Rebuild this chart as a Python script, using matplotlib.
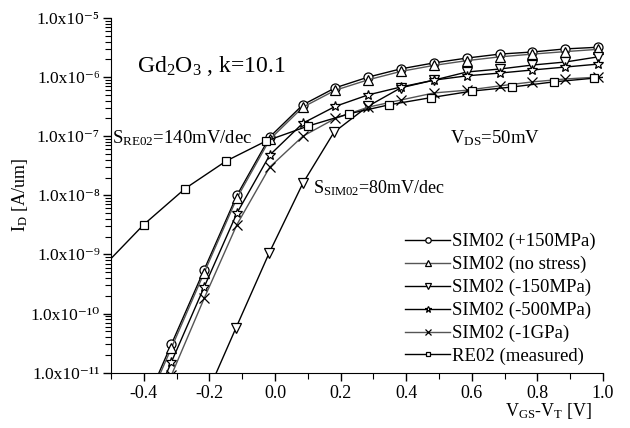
import numpy as np
import matplotlib
matplotlib.use('Agg')
import matplotlib.pyplot as plt
from matplotlib.ticker import FixedLocator, LogLocator, NullFormatter

plt.rcParams['font.family'] = ['Liberation Serif', 'DejaVu Serif']
plt.rcParams['mathtext.default'] = 'regular'

# V_GS - V_T [V] of the simulated points (0.1 V step)
x_sim = [-0.416, -0.316, -0.216, -0.116, -0.016, 0.085, 0.184, 0.284, 0.384,
         0.485, 0.585, 0.685, 0.785, 0.885, 0.985]
id_p150 = [1.6e-12, 3.0e-11, 5.5e-10, 1.0e-8, 9.7e-8, 3.4e-7, 6.6e-7, 1.0e-6,
           1.38e-6, 1.74e-6, 2.1e-6, 2.45e-6, 2.66e-6, 3.0e-6, 3.2e-6]
id_nostress = [1.4e-12, 2.6e-11, 4.9e-10, 9.0e-9, 8.8e-8, 3.1e-7, 6.0e-7, 9.0e-7,
               1.25e-6, 1.58e-6, 1.9e-6, 2.2e-6, 2.45e-6, 2.7e-6, 2.95e-6]
x_m150 = [-0.219, -0.119, -0.018, 0.085, 0.18, 0.283, 0.384, 0.485, 0.585,
          0.685, 0.785, 0.885, 0.985]
id_m150 = [3.1e-12, 5.7e-11, 1.05e-9, 1.6e-8, 1.17e-7, 3.2e-7, 6.6e-7, 8.9e-7,
           1.22e-6, 1.37e-6, 1.6e-6, 1.8e-6, 2.2e-6]
id_m500 = [8e-13, 1.5e-11, 2.8e-10, 5.0e-9, 4.8e-8, 1.66e-7, 3.2e-7, 5.0e-7,
           6.8e-7, 8.9e-7, 1.05e-6, 1.17e-6, 1.32e-6, 1.48e-6, 1.66e-6]
id_m1g = [5e-13, 9e-12, 1.8e-10, 3.2e-9, 3.0e-8, 1.0e-7, 2.0e-7, 3.1e-7,
          4.1e-7, 5.4e-7, 6.0e-7, 7.1e-7, 8.3e-7, 9.3e-7, 1.0e-6]
# measured device
x_re = [-0.5, -0.4, -0.274, -0.149, -0.027, 0.1, 0.226, 0.348, 0.476, 0.601,
        0.723, 0.85, 0.973, 1.0]
id_re = [8.5e-10, 3.2e-9, 1.3e-8, 3.8e-8, 8.3e-8, 1.48e-7, 2.4e-7, 3.4e-7,
         4.5e-7, 5.8e-7, 6.8e-7, 8.3e-7, 9.6e-7, 9.9e-7]
y_exp = [-11, -10, -9, -8, -7, -6, -5]

sup = str.maketrans('-0123456789', '\u207b\u2070\u00b9\u00b2\u00b3\u2074\u2075\u2076\u2077\u2078\u2079')

fig = plt.figure(figsize=(6.3, 4.28), dpi=100)
ax = fig.add_axes([111/630, 1 - 372.6/428, 492/630, 354.6/428])

grey = '#555555'
mk = dict(mfc='white', ms=6.5, lw=1.0, mew=0.9)
ax.plot(x_sim, id_p150, color='black', marker='o', label='SIM02 (+150MPa)', **mk)
ax.plot(x_sim, id_nostress, color=grey, mec='black', marker='^',
        label='SIM02 (no stress)', **mk)
ax.plot(x_m150, id_m150, color='black', marker='v', label='SIM02 (-150MPa)', **mk)
ax.plot(x_sim, id_m500, color='black', marker='*', label='SIM02 (-500MPa)',
        mfc='white', ms=7.5, lw=1.0, mew=0.9)
ax.plot(x_sim, id_m1g, color=grey, mec='black', marker='x',
        label='SIM02 (-1GPa)', ms=6.5, lw=1.0, mew=0.9)
ax.plot(x_re, id_re, color='black', marker='s', markevery=list(range(1, 13)),
        label='RE02 (measured)', mfc='white', ms=6, lw=1.0, mew=0.9)

ax.set_yscale('log')
ax.set_xlim(-0.5, 1.0)
ax.set_ylim(1e-11, 1e-5)
for s in ['top', 'right']:
    ax.spines[s].set_visible(False)

ax.xaxis.set_major_locator(FixedLocator(np.arange(-0.4, 1.01, 0.2)))
ax.xaxis.set_minor_locator(FixedLocator(np.arange(-0.5, 1.01, 0.1)))
ax.set_xticklabels([f'{v:.1f}' for v in np.arange(-0.4, 1.01, 0.2)])
ax.yaxis.set_minor_locator(LogLocator(base=10, subs=np.arange(2, 10), numticks=10))
ax.yaxis.set_minor_formatter(NullFormatter())
ax.set_yticks([10.0**e for e in y_exp])
ax.set_yticklabels(['1.0x10' + str(e).translate(sup) for e in y_exp])
ax.tick_params(which='major', direction='out', length=6, width=1, labelsize=13, pad=3)
ax.tick_params(axis='y', which='major', labelsize=12.5, pad=2)
ax.tick_params(which='minor', direction='out', length=4, width=0.8)

ax.set_xlabel('V$_{GS}$-V$_{T}$ [V]', fontsize=13)
ax.xaxis.set_label_coords(0.89, -0.08)
ax.set_ylabel('I$_{D}$ [A/um]', fontsize=13)
ax.yaxis.set_label_coords(-0.165, 0.5)

ax.text(0.053, 0.848, 'Gd$_2$O$_3$ , k=10.1', transform=ax.transAxes, fontsize=17)
ax.text(0.003, 0.647, 'S$_{RE02}$=140mV/dec', transform=ax.transAxes, fontsize=13.5)
ax.text(0.689, 0.647, 'V$_{DS}$=50mV', transform=ax.transAxes, fontsize=13.5)
ax.text(0.41, 0.506, 'S$_{SIM02}$=80mV/dec', transform=ax.transAxes, fontsize=13)

ax.legend(loc='lower right', bbox_to_anchor=(1.0, 0.0), frameon=False,
          fontsize=13.5, markerscale=0.6, handlelength=2.4, handletextpad=0.1,
          labelspacing=0.3, borderaxespad=0.0)

fig.savefig('out.png', dpi=100)
